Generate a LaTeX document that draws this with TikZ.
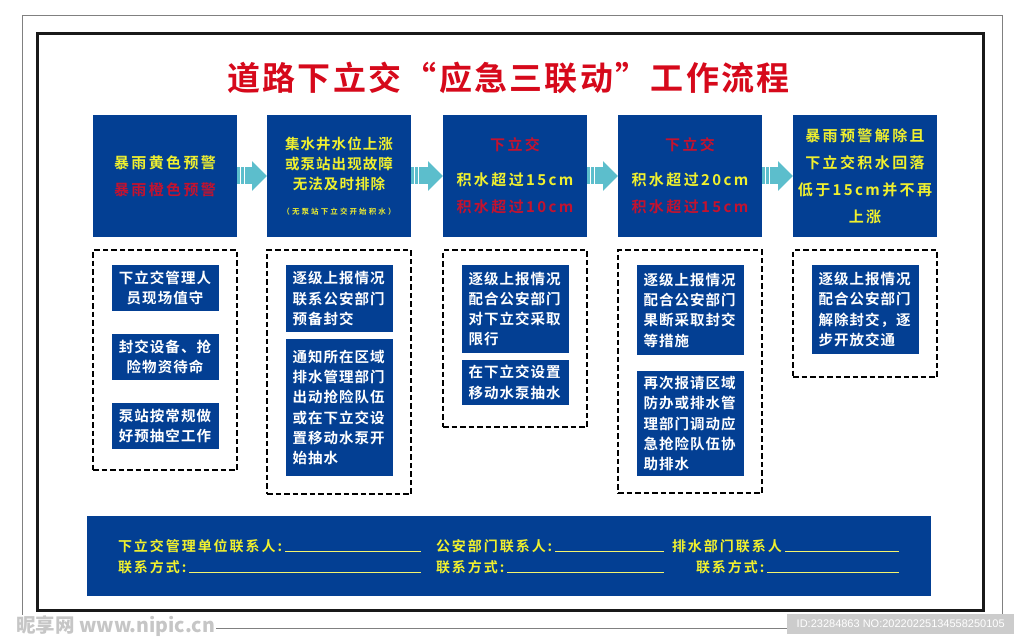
\documentclass[tikz,border=0pt]{standalone}
\usepackage{fontspec}
\setmainfont{Noto Sans CJK SC}[BoldFont=* Bold]
\newfontfamily\idfont{Liberation Sans}
\usetikzlibrary{positioning}
\usetikzlibrary{arrows.meta}

\definecolor{navy}{HTML}{033F93}
\definecolor{hyellow}{HTML}{F0F02E}
\definecolor{hred}{HTML}{C4122F}
\definecolor{tred}{HTML}{D6091B}
\definecolor{teal}{HTML}{5CBECC}

\newcommand{\hr}[1]{\textcolor{hred}{#1}}

\tikzset{
    headbox/.style={draw=none, fill=navy, minimum width=144pt, minimum height=122pt, inner sep=0pt, outer sep=0pt, align=center, text=hyellow,
        font=\fontsize{15}{27}\selectfont\bfseries\addfontfeature{LetterSpace=16}},
    dashbox/.style={draw, dashed, line width=2.4pt, dash pattern=on 5.5pt off 3pt, minimum width=144pt, inner sep=0pt, outer sep=0pt},
    stepbox/.style={fill=navy, minimum width=107pt, inner sep=0pt, outer sep=0pt, align=left, text width=93pt, text=white,
        font=\fontsize{14.5}{20.3}\selectfont\bfseries\addfontfeature{LetterSpace=7}},
    flowarrow/.style={draw=teal, line width=17pt, -{Triangle[length=15pt,width=29pt]}},
    contact/.style={anchor=base west, inner sep=0pt, outer sep=0pt, text=hyellow,
        font=\fontsize{14}{14}\selectfont\bfseries\addfontfeature{LetterSpace=14}},
    fillline/.style={draw=hyellow!70!white, line width=0.7pt}
}

\begin{document}
\begin{tikzpicture}[x=1pt, y=-1pt]

    \useasboundingbox (0,0) rectangle (1024,644);
    \fill[white] (0,0) rectangle (1024,644);
    \draw[gray, line width=1pt] (22,16) rectangle (1002,628);
    \draw[black!90, line width=3pt] (37,34) rectangle (983,610);

    \node(title)[text=tred, font=\fontsize{33}{33}\selectfont\bfseries\addfontfeature{LetterSpace=7}] at (508.5,78) {道路下立交“应急三联动”工作流程};

    % top row
    \node(H1)[headbox] at (165,176) {暴雨黄色预警\\\hr{暴雨橙色预警}};
    \node(H2)[headbox, right=30pt of H1, font=\fontsize{14.5}{20}\selectfont\bfseries\addfontfeature{LetterSpace=7}]
        {集水井水位上涨\\或泵站出现故障\\无法及时排除\\[5pt]{\fontsize{7.5}{8}\selectfont\addfontfeature{LetterSpace=28}（无泵站下立交开始积水）}};
    \node(H3)[headbox, right=32pt of H2] {\hr{下立交}\\[8pt]积水超过15cm\\\hr{积水超过10cm}};
    \node(H4)[headbox, right=31pt of H3] {\hr{下立交}\\[8pt]积水超过20cm\\\hr{积水超过15cm}};
    \node(H5)[headbox, right=31pt of H4] {暴雨预警解除且\\下立交积水回落\\低于15cm并不再\\上涨};

    \foreach \a/\b in {H1/H2, H2/H3, H3/H4, H4/H5} {
        \draw[flowarrow] (\a.east) -- (\b.west);
        \draw[white, line width=0.8pt] ([xshift=3.5pt,yshift=-8.5pt]\a.east) -- ([xshift=3.5pt,yshift=8.5pt]\a.east);
        \draw[white, line width=0.8pt] ([xshift=7pt,yshift=-8.5pt]\a.east) -- ([xshift=7pt,yshift=8.5pt]\a.east);
    }

    % dashed groups
    \node(D1)[dashbox, minimum height=220pt, below=13pt of H1]{};
    \node(D2)[dashbox, minimum height=244pt, below=13pt of H2]{};
    \node(D3)[dashbox, minimum height=177pt, below=13pt of H3]{};
    \node(D4)[dashbox, minimum height=243pt, below=13pt of H4]{};
    \node(D5)[dashbox, minimum height=127pt, below=13pt of H5]{};

    \node(S11)[stepbox, align=center, minimum height=46pt, below=15pt of D1.north]{下立交管理人\\员现场值守};
    \node(S12)[stepbox, align=center, minimum height=46pt, below=23pt of S11]{封交设备、抢\\险物资待命};
    \node(S13)[stepbox, align=center, minimum height=46pt, below=23pt of S12]{泵站按常规做\\好预抽空工作};

    \node(S21)[stepbox, minimum height=67pt, below=15pt of D2.north]{逐级上报情况\\联系公安部门\\预备封交};
    \node(S22)[stepbox, minimum height=137pt, below=7pt of S21]{通知所在区域\\排水管理部门\\出动抢险队伍\\或在下立交设\\置移动水泵开\\始抽水};

    \node(S31)[stepbox, minimum height=88pt, below=15pt of D3.north]{逐级上报情况\\配合公安部门\\对下立交采取\\限行};
    \node(S32)[stepbox, minimum height=45pt, below=7pt of S31]{在下立交设置\\移动水泵抽水};

    \node(S41)[stepbox, minimum height=90pt, below=15pt of D4.north]{逐级上报情况\\配合公安部门\\果断采取封交\\等措施};
    \node(S42)[stepbox, minimum height=105pt, below=16pt of S41]{再次报请区域\\防办或排水管\\理部门调动应\\急抢险队伍协\\助排水};

    \node(S51)[stepbox, minimum height=89pt, below=15pt of D5.north]{逐级上报情况\\配合公安部门\\解除封交，逐\\步开放交通};

    % bottom bar
    \node(bar)[fill=navy, minimum width=844pt, minimum height=80pt, inner sep=0pt, outer sep=0pt] at (509,556) {};
    \foreach \n/\x/\y/\t/\e in {
        C1/118/551/下立交管理单位联系人:/421,
        C2/118/572/联系方式:/421,
        C3/436/551/公安部门联系人:/664,
        C4/436/572/联系方式:/664,
        C5/672/551/排水部门联系人/899,
        C6/696/572/联系方式:/899} {
        \node(\n)[contact] at (\x,\y) {\t};
        \coordinate(\n e) at (\e,\y);
        \draw[fillline] ([xshift=3pt]\n.base east) -- (\n e);
    }

    % marks of the picture source
    \node(site)[anchor=west, inner sep=1pt, fill=white, text=gray!45, font=\fontsize{19.5}{20}\selectfont\bfseries\itshape] at (15,626) {昵享网 www.nipic.cn};
    \node(idstrip)[anchor=west, fill=gray!40, text=white, inner sep=0pt, minimum width=227pt, minimum height=20pt, font=\idfont\fontsize{11}{12}\selectfont] at (787,624) {ID:23284863 NO:20220225134558250105};

\end{tikzpicture}
\end{document}
